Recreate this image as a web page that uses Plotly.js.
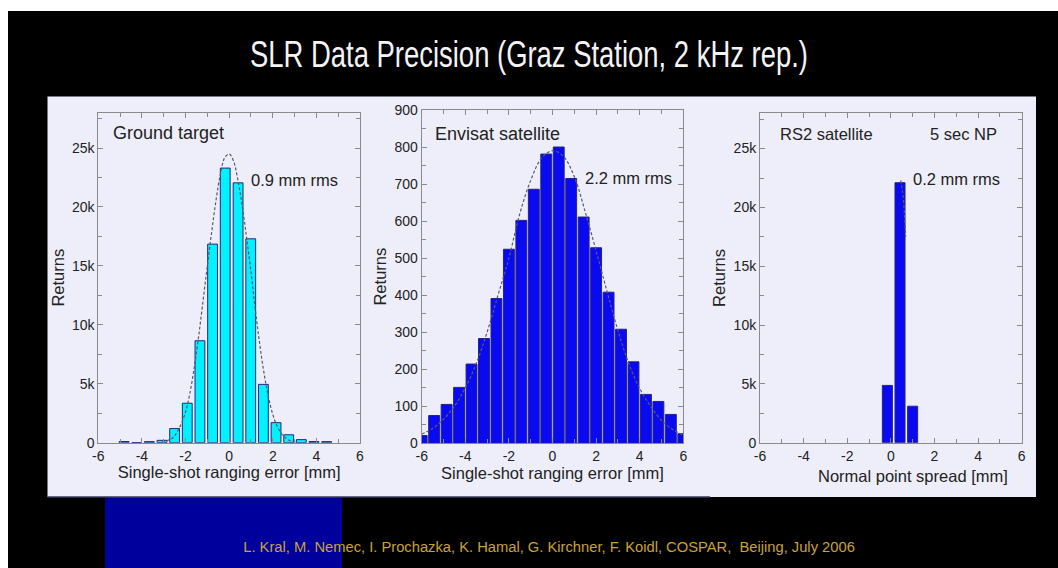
<!DOCTYPE html>
<html>
<head>
<meta charset="utf-8">
<script src="https://cdn.plot.ly/plotly-3.0.1.min.js"></script>
<style>html,body{margin:0;padding:0;background:#000;}#chart{width:1058px;height:568px;}</style>
</head>
<body>
<div id="chart"></div>
<script>
// ---- Data ----
var mainTitle = "SLR Data Precision (Graz Station, 2 kHz rep.)";
var footerText = "L. Kral, M. Nemec, I. Prochazka, K. Hamal, G. Kirchner, F. Koidl, COSPAR,  Beijing, July 2006";

// Panel 1: Ground target (single-shot ranging error, mm)
var p1Centers = [-4.82, -4.24, -3.66, -3.08, -2.50, -1.92, -1.34, -0.76, -0.18, 0.41, 0.99, 1.57, 2.15, 2.73, 3.31, 3.89, 4.47];
var p1Counts  = [100, 0, 90, 200, 1200, 3350, 8650, 16850, 23300, 22050, 17300, 4950, 1700, 670, 260, 100, 90];
var p1FitX = [-3.1, -2.6, -2.3, -2.0, -1.8, -1.6, -1.4, -1.2, -1.0, -0.8, -0.6, -0.4, -0.2, 0.0, 0.2, 0.4, 0.6, 0.8, 1.0, 1.2, 1.4, 1.6, 1.8, 2.0, 2.2, 2.5, 2.8, 3.1];
var p1FitY = [40, 400, 1200, 2600, 4200, 6400, 9000, 12000, 15000, 17900, 20600, 22800, 24200, 24500, 23900, 22300, 20100, 17400, 14500, 11300, 8400, 5900, 3900, 2400, 1400, 550, 170, 40];

// Panel 2: Envisat satellite
var p2Centers = [-6.000, -5.429, -4.857, -4.286, -3.714, -3.143, -2.571, -2.000, -1.429, -0.857, -0.286, 0.286, 0.857, 1.429, 2.000, 2.571, 3.143, 3.714, 4.286, 4.857, 5.429, 6.000];
var p2Counts  = [21, 75, 105, 151, 214, 283, 391, 524, 602, 686, 781, 800, 715, 611, 528, 408, 308, 220, 132, 113, 78, 26];
var p2FitX = [-6.0, -5.5, -5.0, -4.5, -4.0, -3.5, -3.0, -2.5, -2.0, -1.5, -1.0, -0.5, 0.0, 0.5, 1.0, 1.5, 2.0, 2.5, 3.0, 3.5, 4.0, 4.5, 5.0, 5.5, 6.0];
var p2FitY = [25, 40, 65, 100, 150, 215, 300, 400, 500, 620, 710, 770, 790, 775, 720, 625, 520, 410, 305, 215, 148, 100, 62, 38, 22];

// Panel 3: RS2 satellite, 5 sec normal points
var p3Centers = [-0.16, 0.42, 1.00];
var p3Counts  = [4870, 22100, 3100];
var p3FitX = [0.45, 0.55, 0.62, 0.68];
var p3FitY = [22300, 21200, 19500, 17500];

// Tick labels
var xTickVals = [-6, -4, -2, 0, 2, 4, 6];
var xTickText = ["-6", "-4", "-2", "0", "2", "4", "6"];
var kTickVals = [0, 5000, 10000, 15000, 20000, 25000];
var kTickText = ["0", "5k", "10k", "15k", "20k", "25k"];
var p2TickVals = [0, 100, 200, 300, 400, 500, 600, 700, 800, 900];
var p2TickText = ["0", "100", "200", "300", "400", "500", "600", "700", "800", "900"];

// Text labels
var p1Label = "Ground target", p1Rms = "0.9 mm rms";
var p2Label = "Envisat satellite", p2Rms = "2.2 mm rms";
var p3Label = "RS2 satellite", p3Np = "5 sec NP", p3Rms = "0.2 mm rms";
var yTitle = "Returns";
var xTitle12 = "Single-shot ranging error [mm]";
var xTitle3 = "Normal point spread [mm]";

// ---- Styling ----
var W = 1058, H = 568;
function px(x) { return x / W; }
function py(y) { return 1 - y / H; }
var FONT = "Liberation Sans, Arial, sans-serif";
var PANEL = "#eeeefa";
var FRAME = "#8a8a8a";
var TXT = "#222222";
var OUTLINE = "#24247e";
var FIT = {color: "#5a5a6a", width: 1.2, dash: "3px,2px", shape: "spline"};

function xAxis(domain, anchor, title) {
  var ax = {
    domain: domain, anchor: anchor, range: [-6, 6], fixedrange: true,
    tickvals: xTickVals, ticktext: xTickText,
    ticks: "inside", ticklen: 5, tickcolor: FRAME, tickwidth: 1,
    minor: {dtick: 1, tick0: 0, ticks: "inside", ticklen: 4, tickcolor: FRAME},
    showline: true, linecolor: FRAME, linewidth: 1, mirror: "allticks",
    showgrid: false, zeroline: false,
    tickfont: {family: FONT, size: 14, color: TXT}
  };
  if (title) ax.title = {text: title, font: {family: FONT, size: 16.5, color: TXT}, standoff: 2};
  return ax;
}
function yAxis(domain, anchor, range, vals, text, minorStep) {
  return {
    domain: domain, anchor: anchor, range: range, fixedrange: true,
    tickvals: vals, ticktext: text,
    ticks: "inside", ticklen: 5, tickcolor: FRAME, tickwidth: 1,
    minor: {dtick: minorStep, tick0: 0, ticks: "inside", ticklen: 4, tickcolor: FRAME},
    showline: true, linecolor: FRAME, linewidth: 1, mirror: "allticks",
    showgrid: false, zeroline: false,
    tickfont: {family: FONT, size: 14, color: TXT},
    title: {text: yTitle, font: {family: FONT, size: 16.5, color: TXT}, standoff: 3}
  };
}

var traces = [
  {type: "bar", x: p1Centers, y: p1Counts, width: 0.45, xaxis: "x", yaxis: "y",
   marker: {color: "#00f2ff", line: {color: OUTLINE, width: 1}}},
  {type: "scatter", mode: "lines", x: p1FitX, y: p1FitY, xaxis: "x", yaxis: "y", line: FIT},
  {type: "bar", x: p2Centers, y: p2Counts, width: 0.5, xaxis: "x2", yaxis: "y2",
   marker: {color: "#0a0af2", line: {color: OUTLINE, width: 1}}},
  {type: "scatter", mode: "lines", x: p2FitX, y: p2FitY, xaxis: "x2", yaxis: "y2", line: FIT},
  {type: "bar", x: p3Centers, y: p3Counts, width: 0.46, xaxis: "x3", yaxis: "y3",
   marker: {color: "#0a0af2", line: {color: OUTLINE, width: 1}}},
  {type: "scatter", mode: "lines", x: p3FitX, y: p3FitY, xaxis: "x3", yaxis: "y3", line: FIT}
];

function ann(text, x, y, size, opts) {
  var a = {text: text, x: x, y: y, xref: "paper", yref: "paper", showarrow: false,
           xanchor: "left", yanchor: "middle",
           font: {family: FONT, size: size, color: TXT}};
  for (var k in opts) a[k] = opts[k];
  return a;
}

var layout = {
  width: W, height: H,
  margin: {l: 0, r: 0, t: 0, b: 0, pad: 0},
  paper_bgcolor: "#000000",
  plot_bgcolor: PANEL,
  showlegend: false,
  bargap: 0,
  title: {text: mainTitle, x: 0.5, xanchor: "center", y: py(54.5), yanchor: "middle",
          xref: "paper", yref: "paper",
          font: {family: FONT, size: 36, color: "#f4f4f4"}},
  xaxis: xAxis([px(98.3), px(360)], "y", xTitle12),
  yaxis: yAxis([py(442.7), py(112.7)], "x", [0, 28000], kTickVals, kTickText, 2500),
  xaxis2: xAxis([px(421.7), px(683.3)], "y2", xTitle12),
  yaxis2: yAxis([py(443.3), py(110)], "x2", [0, 900], p2TickVals, p2TickText, 50),
  xaxis3: xAxis([px(760), px(1021.7)], "y3", null),
  yaxis3: yAxis([py(442.7), py(113.3)], "x3", [0, 28000], kTickVals, kTickText, 2500),
  shapes: [
    {type: "rect", xref: "paper", yref: "paper", x0: 0, x1: 1, y0: py(11), y1: 1,
     fillcolor: "#ffffff", line: {width: 0}, layer: "below"},
    {type: "rect", xref: "paper", yref: "paper", x0: 0, x1: px(8), y0: 0, y1: 1,
     fillcolor: "#ffffff", line: {width: 0}, layer: "below"},
    {type: "rect", xref: "paper", yref: "paper", x0: px(105), x1: px(342), y0: 0, y1: py(497),
     fillcolor: "#00009c", line: {width: 0}, layer: "below"},
    {type: "rect", xref: "paper", yref: "paper", x0: px(47.5), x1: px(1036), y0: py(497), y1: py(96.5),
     fillcolor: PANEL, line: {width: 0}, layer: "below"},
    {type: "line", xref: "paper", yref: "paper", x0: px(47.5), x1: px(710), y0: py(497), y1: py(497),
     line: {color: "#3a3a5a", width: 1.5}, layer: "below"}
  ],
  annotations: [
    ann(p1Label, px(111), py(133), 18),
    ann(p1Rms, px(249), py(180), 16.5),
    ann(p2Label, px(433), py(134), 18),
    ann(p2Rms, px(583), py(178), 16.5),
    ann(p3Label, px(778), py(134), 16.5),
    ann(p3Np, px(928), py(134), 16.5),
    ann(p3Rms, px(911), py(179), 16.5),
    ann(xTitle3, px(913), py(476), 16.5, {xanchor: "center"}),
    ann(footerText, px(549), py(546), 15.5, {xanchor: "center",
        font: {family: FONT, size: 15.5, color: "#c8a23a"}})
  ]
};

// squeeze a text element horizontally (narrow-font look) about its own centre
function squeeze(el, targetWidth) {
  if (!el) return;
  var bb = el.getBBox();
  if (!bb.width) return;
  var s = targetWidth / bb.width;
  var cx = bb.x + bb.width / 2;
  var prev = el.getAttribute("transform") || "";
  el.setAttribute("transform", prev + " translate(" + cx + ",0) scale(" + s + ",1) translate(" + (-cx) + ",0)");
}

Plotly.newPlot("chart", traces, layout, {staticPlot: true, displayModeBar: false}).then(function (gd) {
  squeeze(gd.querySelector(".g-gtitle text"), 558);
  var texts = gd.querySelectorAll(".annotation-text");
  squeeze(texts[texts.length - 1], 612);
});
</script>
</body>
</html>
